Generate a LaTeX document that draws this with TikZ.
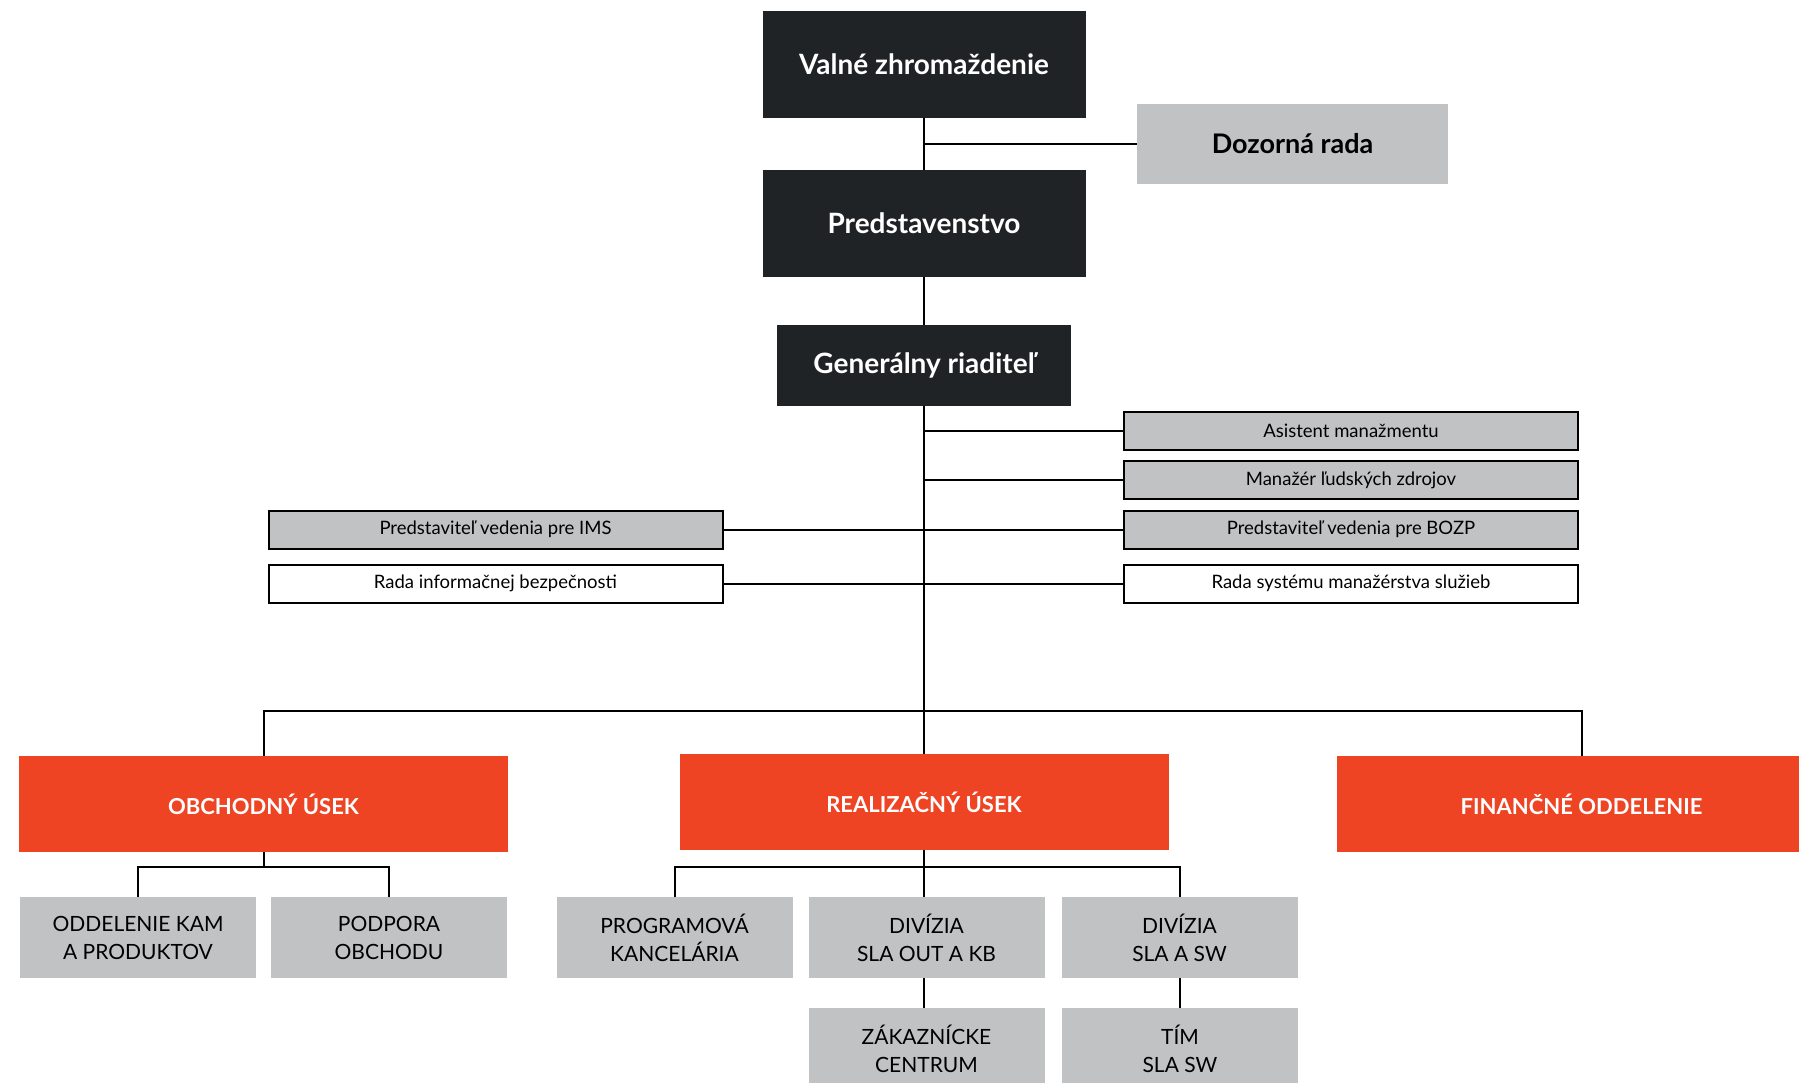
\documentclass[tikz,border=0pt]{standalone}
\usepackage{fontspec}
\setmainfont{Lato}
\definecolor{boardblack}{HTML}{202326}
\definecolor{unitorange}{HTML}{EF4423}
\definecolor{panelgray}{HTML}{C1C2C3}

\begin{document}
\begin{tikzpicture}[x=1pt,y=-1pt,
        link/.style={line width=2pt, black},
        board/.style={fill=boardblack, text=white, inner sep=0pt,
            minimum width=323pt, minimum height=107pt,
            font=\fontsize{28}{32}\selectfont\bfseries},
        superv/.style={fill=panelgray, inner sep=0pt,
            minimum width=311pt, minimum height=80pt,
            font=\fontsize{27}{30}\selectfont\bfseries},
        grayrow/.style={fill=panelgray, draw=black, line width=2pt, inner sep=0pt,
            minimum width=454pt, minimum height=38pt,
            font=\fontsize{18.5}{22}\selectfont},
        whiterow/.style={grayrow, fill=white},
        unit/.style={fill=unitorange, text=white, inner sep=0pt,
            minimum width=489pt, minimum height=96pt,
            font=\fontsize{22}{26}\selectfont\bfseries},
        dept/.style={fill=panelgray, inner sep=0pt, align=center,
            minimum width=236pt, minimum height=81pt,
            font=\fontsize{21}{28}\selectfont}]

        \clip (0,0) rectangle (1799,1083);

        % Board level
        \node[board] (valne) at (924,64.5) {Valné zhromaždenie};
        \node[board] (pred) at (924,223.5) {Predstavenstvo};
        \node[board, minimum width=294pt, minimum height=81pt] (gr) at (924,365.5) {Generálny riaditeľ};
        \node[superv] (dozor) at (1292.5,144) {Dozorná rada};

        \draw[link] (valne) -- (pred);
        \draw[link] (pred) -- (gr);
        \draw[link] (dozor.west) -- (dozor.west -| valne.south);

        % Staff positions
        \node[grayrow] (asist) at (1351,431) {Asistent manažmentu};
        \node[grayrow] (hr) at (1351,480) {Manažér ľudských zdrojov};
        \node[grayrow] (bozp) at (1351,529.5) {Predstaviteľ vedenia pre BOZP};
        \node[whiterow] (rsms) at (1351,583.5) {Rada systému manažérstva služieb};
        \node[grayrow] (ims) at (495.5,529.5) {Predstaviteľ vedenia pre IMS};
        \node[whiterow] (rib) at (495.5,583.5) {Rada informačnej bezpečnosti};

        \foreach \n in {asist,hr,bozp,rsms} {
            \draw[link] (\n.west) -- (\n.west -| gr.south);
        }
        \foreach \n in {ims,rib} {
            \draw[link] (\n.east) -- (\n.east -| gr.south);
        }

        % Units
        \node[unit] (obch) at (263.5,804) {OBCHODNÝ ÚSEK};
        \node[unit] (real) at (924,802) {REALIZAČNÝ ÚSEK};
        \node[unit] (fin) at (1581.5,804) {FINANČNÉ ODDELENIE};

        \draw[link] (gr) -- (real);
        \draw[link] (obch.north) -- ++(0,-45) -| (fin.north);

        % Departments
        \node[dept] (kam) at (138,937.5) {ODDELENIE KAM\\A PRODUKTOV};
        \node[dept] (podp) at (389,937.5) {PODPORA\\OBCHODU};
        \node[dept] (prog) at (674.5,937.5) {PROGRAMOVÁ\\KANCELÁRIA};
        \node[dept] (divout) at (926.5,937.5) {DIVÍZIA\\SLA OUT A KB};
        \node[dept] (divsw) at (1179.5,937.5) {DIVÍZIA\\SLA A SW};
        \node[dept] (zak) at (926.5,1048.5) {ZÁKAZNÍCKE\\CENTRUM};
        \node[dept] (tim) at (1180,1048.5) {TÍM\\SLA SW};

        \coordinate (obus) at (263.5,867);
        \coordinate (rbus) at (924,867);
        \draw[link] (obch.south) -- (obus);
        \draw[link] (kam.north) |- (obus) -| (podp.north);
        \draw[link] (real.south) -- (real.south |- divout.north);
        \draw[link] (prog.north) |- (rbus) -| (divsw.north);
        \draw[link] (real.south |- divout.south) -- (real.south |- zak.north);
        \draw[link] (divsw.south) -- (divsw.south |- tim.north);
    \end{tikzpicture}
\end{document}
